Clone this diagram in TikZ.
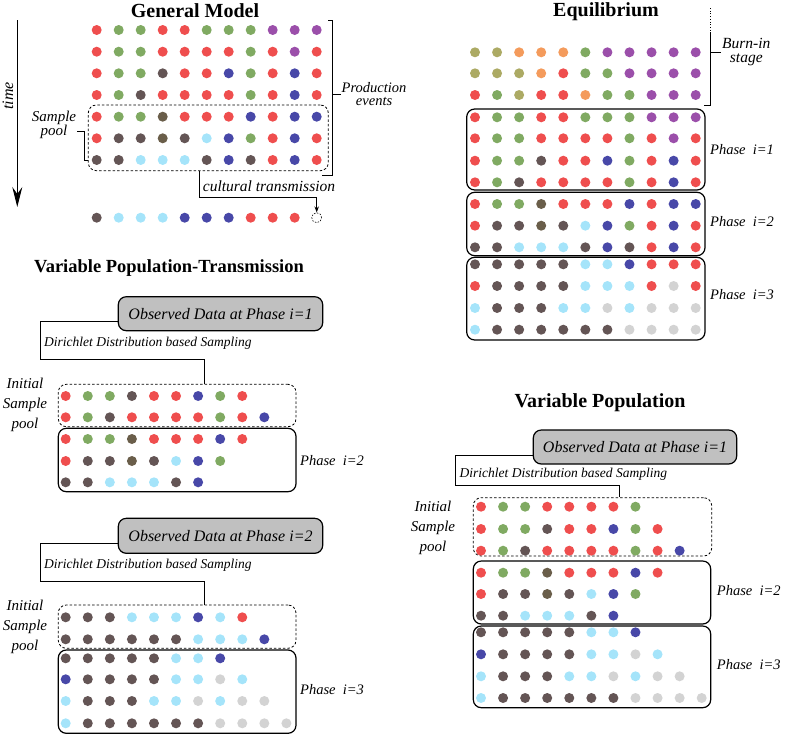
\documentclass[tikz,border=0pt]{standalone}
\usepackage{fontspec}
\setmainfont{Liberation Serif}
\usetikzlibrary{arrows.meta,calc}
\definecolor{RdClr}{RGB}{239,78,78}
\definecolor{GnClr}{RGB}{128,170,98}
\definecolor{PuClr}{RGB}{155,79,170}
\definecolor{BrClr}{RGB}{100,85,85}
\definecolor{ObClr}{RGB}{106,94,74}
\definecolor{SkClr}{RGB}{165,228,250}
\definecolor{BuClr}{RGB}{72,72,168}
\definecolor{GyClr}{RGB}{211,211,211}
\definecolor{OlClr}{RGB}{172,170,100}
\definecolor{OrClr}{RGB}{244,155,92}
\definecolor{ObsClr}{RGB}{192,192,192}

% one row of coloured dots: name, first x, y, colours
\newcommand{\dotrow}[5][22.07]{%
  \foreach \clr [count=\i from 0] in {#5}
    \node[dot, fill=\clr Clr] (#2-\i) at ({#3+#1*\i},#4) {};}

\begin{document}
\begin{tikzpicture}[x=1pt,y=-1pt,
  dot/.style={circle, inner sep=0pt, minimum size=10pt},
  phasebox/.style={draw, rounded corners=8pt, line width=1.2pt},
  poolbox/.style={draw, dash pattern=on 2.5pt off 2pt, rounded corners=8pt, line width=0.8pt},
  obsbox/.style={draw, fill=ObsClr, rounded corners=8pt, line width=1.2pt,
    font=\itshape\fontsize{16}{18}\selectfont},
  link/.style={line width=0.9pt},
  title/.style={font=\bfseries\fontsize{20}{22}\selectfont},
  lbl/.style={inner sep=1pt, align=center, font=\itshape\fontsize{15}{13.5}\selectfont},
  poollbl/.style={inner sep=1pt, align=center, font=\itshape\fontsize{15}{20}\selectfont},
  phlbl/.style={anchor=west, inner sep=0pt, font=\itshape\fontsize{14.5}{16}\selectfont},
  dirlbl/.style={anchor=west, inner sep=0pt, font=\itshape\fontsize{13.5}{15}\selectfont}]
\useasboundingbox (0,0) rectangle (787,736);

% ---------------- General Model
\node[title] (gm-title) at (195,11) {General Model};
\dotrow[22]{gm0}{96.7}{30}{Rd,Gn,Gn,Rd,Rd,Gn,Gn,Gn,Pu,Pu,Pu}
\dotrow[22]{gm1}{96.7}{51.7}{Rd,Gn,Gn,Rd,Rd,Rd,Rd,Gn,Rd,Pu,Rd}
\dotrow[22]{gm2}{96.7}{73.3}{Rd,Gn,Gn,Br,Rd,Rd,Bu,Gn,Rd,Bu,Rd}
\dotrow[22]{gm3}{96.7}{95}{Rd,Gn,Br,Rd,Rd,Rd,Rd,Gn,Rd,Bu,Rd}
\dotrow[22]{gm4}{96.7}{116.7}{Rd,Gn,Gn,Ob,Rd,Rd,Rd,Bu,Rd,Bu,Bu}
\dotrow[22]{gm5}{96.7}{138.3}{Rd,Br,Br,Ob,Br,Sk,Bu,Gn,Rd,Bu,Rd}
\dotrow[22]{gm6}{96.7}{160}{Br,Br,Sk,Sk,Sk,Br,Bu,Br,Rd,Bu,Rd}
\dotrow[22]{gm7}{96.7}{217.7}{Br,Sk,Sk,Sk,Bu,Bu,Bu,Rd,Rd,Rd}
\node[dot, draw, fill=none, line width=0.6pt, dash pattern=on 1.5pt off 1.5pt] (gm-new) at (316.7,217.7) {};
\node[poolbox, minimum width=240pt, minimum height=65.7pt] (gm-pool) at (208.3,137.85) {};

\coordinate (gm-t0) at (17.3,20);
\coordinate (gm-t1) at (17.3,207);
\draw[link, -{Stealth[length=20pt, width=10pt, inset=7pt]}] (gm-t0) -- (gm-t1);
\node[lbl, rotate=90, font=\itshape\fontsize{16}{18}\selectfont] (gm-time) at (8,96) {time};

\node[lbl] (gm-spl) at (54,125) {Sample\\pool};
\draw[link] ([yshift=-6.7pt]gm-spl.east) -- ++(7,0) |- (gm-pool.west |- gm6-0);

\coordinate (gm-br0) at (332.7,20);
\coordinate (gm-br1) at (332.7,175);
\node[lbl, anchor=west, font=\itshape\fontsize{14.5}{13.5}\selectfont] (gm-prod) at (340.5,94) {Production\\events};
\draw[link] ($(gm-br0)+(-4.5,0)$) -- (gm-br0) -- (gm-br1) -- ++(-11,0);
\draw[link] (gm-br0 |- gm-prod.west) -- (gm-prod.west);

\coordinate (gm-ct) at ([xshift=-9.3pt]gm-pool.south);
\node[lbl, font=\itshape\fontsize{15.5}{17}\selectfont] (gm-ctl) at (269,186) {cultural transmission};
\draw[link, -{Stealth[length=6pt, width=4.5pt]}] (gm-ct) -- ++(0,26.6) -| (gm-new.north);

% ---------------- Equilibrium
\node[title] (eq-title) at (606,12) {Equilibrium};
\dotrow{eq0}{475}{52.3}{Ol,Ol,Or,Or,Or,Gn,Pu,Pu,Pu,Pu,Pu}
\dotrow{eq1}{475}{73.3}{Ol,Ol,Ol,Or,Rd,Gn,Gn,Pu,Pu,Pu,Pu}
\dotrow{eq2}{475}{95}{Rd,Gn,Ol,Rd,Rd,Or,Gn,Gn,Pu,Pu,Pu}
\dotrow{eq3}{475}{117.3}{Rd,Gn,Gn,Rd,Rd,Gn,Gn,Gn,Pu,Pu,Pu}
\dotrow{eq4}{475}{138.3}{Rd,Gn,Gn,Rd,Rd,Rd,Rd,Gn,Rd,Pu,Rd}
\dotrow{eq5}{475}{160.7}{Rd,Gn,Gn,Br,Rd,Rd,Bu,Gn,Rd,Bu,Rd}
\dotrow{eq6}{475}{182.3}{Rd,Gn,Br,Rd,Rd,Rd,Rd,Gn,Rd,Bu,Rd}
\dotrow{eq7}{475}{204}{Rd,Gn,Gn,Ob,Rd,Rd,Rd,Bu,Rd,Bu,Bu}
\dotrow{eq8}{475}{225.7}{Rd,Br,Br,Ob,Br,Sk,Bu,Gn,Rd,Bu,Rd}
\dotrow{eq9}{475}{247.3}{Br,Br,Sk,Sk,Sk,Br,Bu,Br,Rd,Bu,Rd}
\dotrow{eq10}{475}{264.3}{Br,Br,Br,Br,Br,Sk,Sk,Bu,Rd,Rd,Rd}
\dotrow{eq11}{475}{286}{Rd,Br,Br,Br,Br,Sk,Sk,Sk,Rd,Gy,Rd}
\dotrow{eq12}{475}{308}{Sk,Br,Br,Br,Sk,Sk,Gy,Sk,Gy,Gy,Gy}
\dotrow{eq13}{475}{329.7}{Sk,Br,Br,Br,Br,Br,Br,Gy,Gy,Gy,Gy}
\node[phasebox, minimum width=238.3pt, minimum height=81pt] (eq-ph1) at (585.85,149.5) {};
\node[phasebox, minimum width=238.3pt, minimum height=63.4pt] (eq-ph2) at (585.85,224) {};
\node[phasebox, minimum width=238.3pt, minimum height=82.7pt] (eq-ph3) at (585.85,298.65) {};
\node[phlbl] (eq-ph1l) at (710,150) {Phase\enspace i=1};
\node[phlbl] (eq-ph2l) at (710,221.7) {Phase\enspace i=2};
\node[phlbl] (eq-ph3l) at (710,295) {Phase\enspace i=3};

\coordinate (eq-br0) at (710,33);
\coordinate (eq-br1) at (710,105);
\draw[line width=0.7pt, dotted] (eq-br0) -- ++(0,-26);
\draw[link] (eq-br0) -- (eq-br1) -- ++(-6,0);
\node[lbl, anchor=west, font=\itshape\fontsize{15.5}{14}\selectfont] (eq-burn) at (721,52.5) {Burn-in\\stage};
\draw[link] (eq-br0 |- eq-burn.west) -- (eq-burn.west);

% ---------------- Variable Population-Transmission
\node[title, font=\bfseries\fontsize{18.5}{21}\selectfont] (vpt-title) at (169,268) {Variable Population-Transmission};

\node[obsbox, minimum width=204.4pt, minimum height=34pt] (vpt-obs1) at (220.5,313.7) {Observed Data at Phase i=1};
\node[dirlbl] (vpt-dir1) at (44,343.3) {Dirichlet Distribution based Sampling};
\node[poolbox, minimum width=237.7pt, minimum height=42.4pt] (vpt-pool1) at (177.15,405.5) {};
\node[phasebox, minimum width=237.7pt, minimum height=63.4pt] (vpt-ph2) at (177.15,460) {};
\coordinate (vpt-a1) at (40.7,359);
\coordinate (vpt-b1) at (204,359);
\draw[link] ([yshift=-8pt]vpt-obs1.west) -| (vpt-a1) -- (vpt-b1) -- (vpt-b1 |- vpt-pool1.north);
\node[poollbl] (vpt-isp1) at (25,405) {Initial\\Sample\\pool};
\node[phlbl] (vpt-ph2l) at (300,461) {Phase\enspace i=2};
\dotrow{vpt0}{65.7}{396}{Rd,Gn,Gn,Br,Rd,Rd,Bu,Gn,Rd}
\dotrow{vpt1}{65.7}{417.3}{Rd,Gn,Br,Rd,Rd,Rd,Rd,Gn,Rd,Bu}
\dotrow{vpt2}{65.7}{439}{Rd,Gn,Gn,Ob,Rd,Rd,Rd,Bu,Rd}
\dotrow{vpt3}{65.7}{461}{Rd,Br,Br,Ob,Br,Sk,Bu,Gn}
\dotrow{vpt4}{65.7}{482.3}{Br,Br,Sk,Sk,Sk,Br,Bu}

\node[obsbox, minimum width=204.4pt, minimum height=35pt] (vpt-obs2) at (220.5,535.8) {Observed Data at Phase i=2};
\node[dirlbl] (vpt-dir2) at (44,565.7) {Dirichlet Distribution based Sampling};
\node[poolbox, minimum width=237.7pt, minimum height=43.3pt] (vpt-pool2) at (177.15,626.65) {};
\node[phasebox, minimum width=237.7pt, minimum height=83.3pt] (vpt-ph3) at (177.15,691.65) {};
\coordinate (vpt-a2) at (40.7,581);
\coordinate (vpt-b2) at (204,581);
\draw[link] ([yshift=-7.5pt]vpt-obs2.west) -| (vpt-a2) -- (vpt-b2) -- (vpt-b2 |- vpt-pool2.north);
\node[poollbl] (vpt-isp2) at (25,626.5) {Initial\\Sample\\pool};
\node[phlbl] (vpt-ph3l) at (300,690) {Phase\enspace i=3};
\dotrow{vpt5}{65.7}{617.3}{Br,Br,Br,Sk,Sk,Sk,Bu,Sk,Rd}
\dotrow{vpt6}{65.7}{639.3}{Br,Br,Br,Br,Br,Br,Sk,Sk,Sk,Bu}
\dotrow{vpt7}{65.7}{658.3}{Br,Br,Br,Br,Br,Sk,Sk,Bu}
\dotrow{vpt8}{65.7}{679.3}{Bu,Br,Br,Br,Br,Sk,Sk,Gy,Sk}
\dotrow{vpt9}{65.7}{701}{Sk,Br,Br,Br,Sk,Sk,Gy,Sk,Gy,Gy}
\dotrow{vpt10}{65.7}{723.3}{Sk,Br,Br,Br,Br,Br,Br,Gy,Gy,Gy,Gy}

% ---------------- Variable Population
\node[title] (vp-title) at (600,402.7) {Variable Population};
\node[obsbox, minimum width=203.4pt, minimum height=34pt] (vp-obs) at (635,447) {Observed Data at Phase i=1};
\node[dirlbl] (vp-dir) at (459.5,474.3) {Dirichlet Distribution based Sampling};
\node[poolbox, minimum width=238.4pt, minimum height=58.3pt] (vp-pool) at (592.5,526.85) {};
\node[phasebox, minimum width=237.4pt, minimum height=63pt] (vp-ph2) at (592,592.5) {};
\node[phasebox, minimum width=237.4pt, minimum height=81.7pt] (vp-ph3) at (592,666.85) {};
\coordinate (vp-a) at (455.7,485.7);
\coordinate (vp-b) at (619,485.7);
\draw[link] ([yshift=-8pt]vp-obs.west) -| (vp-a) -- (vp-b) -- (vp-b |- vp-pool.north);
\node[poollbl] (vp-isp) at (433,528) {Initial\\Sample\\pool};
\node[phlbl] (vp-ph2l) at (716.7,591) {Phase\enspace i=2};
\node[phlbl] (vp-ph3l) at (716.7,665) {Phase\enspace i=3};
\dotrow{vp0}{481}{506.7}{Rd,Gn,Gn,Rd,Rd,Rd,Rd,Gn}
\dotrow{vp1}{481}{529}{Rd,Gn,Gn,Br,Rd,Rd,Bu,Gn,Rd}
\dotrow{vp2}{481}{550.7}{Rd,Gn,Br,Rd,Rd,Rd,Rd,Gn,Rd,Bu}
\dotrow{vp3}{481}{572.7}{Rd,Gn,Gn,Ob,Rd,Rd,Rd,Bu,Rd}
\dotrow{vp4}{481}{594}{Rd,Br,Br,Ob,Br,Sk,Bu,Gn}
\dotrow{vp5}{481}{615.7}{Br,Br,Sk,Sk,Sk,Br,Bu}
\dotrow{vp6}{481}{632.3}{Br,Br,Br,Br,Br,Sk,Sk,Bu}
\dotrow{vp7}{481}{654.3}{Bu,Br,Br,Br,Br,Sk,Sk,Gy,Sk}
\dotrow{vp8}{481}{676.3}{Sk,Br,Br,Br,Sk,Sk,Gy,Sk,Gy,Gy}
\dotrow{vp9}{481}{698}{Sk,Br,Br,Br,Br,Br,Br,Gy,Gy,Gy,Gy}
\end{tikzpicture}
\end{document}
